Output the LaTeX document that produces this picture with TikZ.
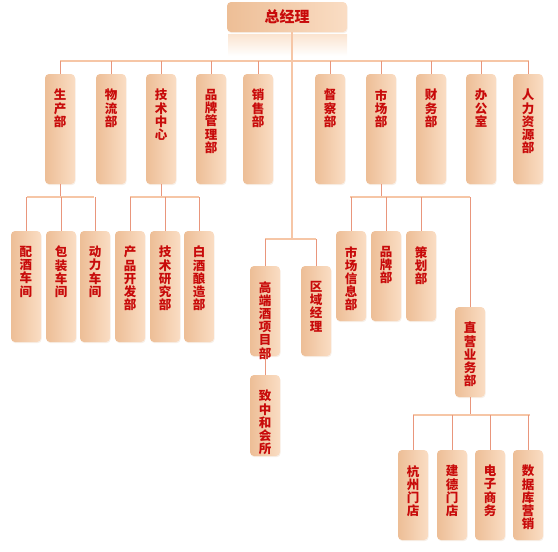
\documentclass[tikz,border=0pt]{standalone}
\usepackage{fontspec}
\newfontfamily\cjk{Noto Sans CJK SC}
\usetikzlibrary{shadows}
\definecolor{boxL}{HTML}{EDBE96}
\definecolor{boxR}{HTML}{FADDC4}
\definecolor{txt}{HTML}{C80A0A}
\definecolor{bus}{HTML}{F6C6A6}
\definecolor{stem}{HTML}{E9967C}
\tikzset{
  orgbox/.style={rounded corners=4pt, left color=boxL, right color=boxR, draw=none,
    drop shadow={shadow xshift=0.6pt, shadow yshift=-1.2pt, opacity=0.12, fill=brown}},
  lbl/.style={anchor=north, align=center, inner sep=0pt, text=txt,
    font=\cjk\bfseries\fontsize{12.5}{13.2}\selectfont},
  busline/.style={draw=bus, line width=1.6pt},
  stemline/.style={draw=stem, line width=0.8pt},
}
% \orgnode{name}{cx}{top}{bottom}{text}
\newcommand{\orgnode}[5]{%
  \path[orgbox] (#2-15,#3) rectangle (#2+15,#4);
  \node[lbl] (#1) at (#2,#3+15) {#5};
  \coordinate (#1-t) at (#2,#3);
  \coordinate (#1-b) at (#2,#4);
}
\begin{document}
\begin{tikzpicture}[x=1pt,y=-1pt]
\useasboundingbox (0,0) rectangle (558,552);
% top box + reflection
\shade[top color=boxR!80!white, bottom color=white] (228,34) rectangle (347,56);
\path[orgbox] (227,2) rectangle (347,32);
\node[text=txt, font=\cjk\bfseries\fontsize{15}{16}\selectfont, inner sep=0pt] (gm) at (287,17) {总经理};
\coordinate (gm-b) at (292,32);

% main connectors
\coordinate (bus1L) at (60,61);
\coordinate (bus1R) at (529,61);
\coordinate (trunk) at (292,239);
\draw[busline] (gm-b) -- (trunk);
\draw[busline] (bus1L) -- (bus1R);

% level 1
\orgnode{sc}{60}{74}{184}{生\\产\\部}
\orgnode{wl}{111}{74}{184}{物\\流\\部}
\orgnode{js}{161}{74}{184}{技\\术\\中\\心}
\orgnode{pp}{211}{74}{184}{品\\牌\\管\\理\\部}
\orgnode{xs}{258}{74}{184}{销\\售\\部}
\orgnode{dc}{330}{74}{184}{督\\察\\部}
\orgnode{scb}{381}{74}{184}{市\\场\\部}
\orgnode{cw}{431}{74}{184}{财\\务\\部}
\orgnode{bg}{481}{74}{184}{办\\公\\室}
\orgnode{rl}{528}{74}{184}{人\\力\\资\\源\\部}
\foreach \n in {sc,wl,js,pp,xs,dc,scb,cw,bg,rl}{
  \draw[stemline] (\n-t) -- (\n-t |- bus1L);
}

% under 生产部
\coordinate (b2aL) at (27,197);
\coordinate (b2aR) at (94,197);
\draw[stemline] (sc-b) -- (sc-b |- b2aL);
\draw[busline] (b2aL) -- (b2aR);
\orgnode{pj}{26}{231}{342}{配\\酒\\车\\间}
\orgnode{bz}{61}{231}{342}{包\\装\\车\\间}
\orgnode{dl}{95}{231}{342}{动\\力\\车\\间}
\foreach \n in {pj,bz,dl}{ \draw[stemline] (\n-t) -- (\n-t |- b2aL); }

% under 技术中心
\coordinate (b2bL) at (130,197);
\coordinate (b2bR) at (199,197);
\draw[stemline] (js-b) -- (js-b |- b2bL);
\draw[busline] (b2bL) -- (b2bR);
\orgnode{cp}{130}{231}{342}{产\\品\\开\\发\\部}
\orgnode{jy}{165}{231}{342}{技\\术\\研\\究\\部}
\orgnode{bj}{199}{231}{342}{白\\酒\\酿\\造\\部}
\foreach \n in {cp,jy,bj}{ \draw[stemline] (\n-t) -- (\n-t |- b2bL); }

% trunk branch
\coordinate (b2cL) at (265,239);
\coordinate (b2cR) at (316,239);
\draw[busline] (b2cL) -- (b2cR);
\orgnode{gd}{265}{266}{356}{高\\端\\酒\\项\\目\\部}
\orgnode{qy}{316}{266}{356}{区\\域\\经\\理}
\foreach \n in {gd,qy}{ \draw[stemline] (\n-t) -- (\n-t |- b2cL); }
\orgnode{zz}{265}{375}{456}{致\\中\\和\\会\\所}
\draw[stemline] (gd-b) -- (zz-t);

% under 市场部
\coordinate (b2dL) at (350,197);
\coordinate (b2dR) at (470,197);
\draw[stemline] (scb-b) -- (scb-b |- b2dL);
\draw[busline] (b2dL) -- (b2dR);
\orgnode{xx}{351}{231}{321}{市\\场\\信\\息\\部}
\orgnode{ppb}{386}{231}{321}{品\\牌\\部}
\orgnode{ch}{421}{231}{321}{策\\划\\部}
\orgnode{zy}{470}{307}{397}{直\\营\\业\\务\\部}
\foreach \n in {xx,ppb,ch,zy}{ \draw[stemline] (\n-t) -- (\n-t |- b2dL); }

% under 直营业务部
\coordinate (b3L) at (413,415);
\coordinate (b3R) at (530,415);
\draw[stemline] (zy-b) -- (zy-b |- b3L);
\draw[busline] (b3L) -- (b3R);
\orgnode{hz}{413}{450}{540}{杭\\州\\门\\店}
\orgnode{jd}{452}{450}{540}{建\\德\\门\\店}
\orgnode{dz}{490}{450}{540}{电\\子\\商\\务}
\orgnode{sj}{528}{450}{540}{数\\据\\库\\营\\销}
\foreach \n in {hz,jd,dz,sj}{ \draw[stemline] (\n-t) -- (\n-t |- b3L); }
\end{tikzpicture}
\end{document}
